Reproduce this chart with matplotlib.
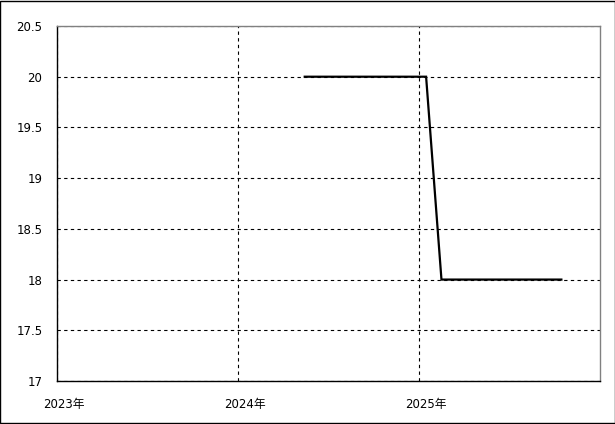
import numpy as np
import pandas as pd
import matplotlib
matplotlib.use("Agg")
import matplotlib.pyplot as plt
import matplotlib.dates as mdates
from matplotlib.patches import Rectangle
from matplotlib.transforms import ScaledTranslation

plt.rcParams['font.family'] = ['DejaVu Sans', 'Noto Sans CJK JP']

# monthly values (mid-month), May 2024 .. Oct 2025
months = pd.date_range('2024-05-01', '2025-10-01', freq='MS') + pd.Timedelta(days=14)
values = [20, 20, 20, 20, 20, 20, 20, 20, 20,
          18, 18, 18, 18, 18, 18, 18, 18, 18]

year_ticks = pd.to_datetime(['2023-01-01', '2024-01-01', '2025-01-01'])
year_labels = ['2023年', '2024年', '2025年']
y_ticks = [17, 17.5, 18, 18.5, 19, 19.5, 20, 20.5]
y_labels = ['17', '17.5', '18', '18.5', '19', '19.5', '20', '20.5']

fig = plt.figure(figsize=(6.15, 4.24), dpi=100)
ax = fig.add_axes([57 / 615, 43 / 424, 543 / 615, 355 / 424])

ax.plot(months, values, color='black', lw=1.6, solid_joinstyle='miter')

ax.set_xlim(pd.Timestamp('2023-01-01'), pd.Timestamp('2026-01-01'))
ax.set_ylim(17, 20.5)
ax.set_xticks(year_ticks)
ax.set_xticklabels(year_labels)
ax.set_yticks(y_ticks)
ax.set_yticklabels(y_labels)
ax.tick_params(axis='both', length=0, labelsize=8.5)
ax.tick_params(axis='y', pad=10.5)
ax.tick_params(axis='x', pad=12)
for lab in ax.get_xticklabels():
    lab.set_transform(lab.get_transform() + ScaledTranslation(7 / 100, 0, fig.dpi_scale_trans))

ax.grid(True, color='black', lw=0.8, linestyle=(0, (3, 3)))
ax.set_axisbelow(True)

for side in ['left', 'bottom']:
    ax.spines[side].set_color('black')
    ax.spines[side].set_linewidth(1.0)
for side in ['top', 'right']:
    ax.spines[side].set_color('#808080')
    ax.spines[side].set_linewidth(1.0)

fig.patches.append(Rectangle((0.0008, 0.0012), 0.9984, 0.9976, transform=fig.transFigure,
                             fill=False, edgecolor='black', lw=1.0))

fig.savefig('out.png', dpi=100)
